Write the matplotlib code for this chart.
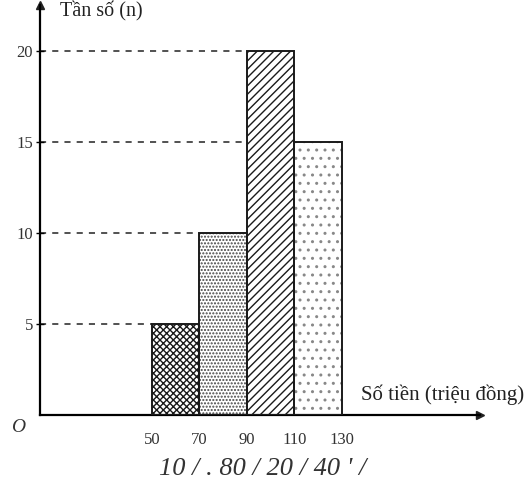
import matplotlib.pyplot as plt

# class edges (trieu dong) and frequencies
edges = [50, 70, 90, 110, 130]
freq = [5, 10, 20, 15]
hatches = ['xxxxx', '.....', '////', '..']
hatch_colors = ['#1a1a1a', '#444444', '#1a1a1a', '#888888']
yticks = [5, 10, 15, 20]

plt.rcParams['font.family'] = ['Liberation Serif', 'DejaVu Serif']
plt.rcParams['hatch.linewidth'] = 1.0

fig = plt.figure(figsize=(5.26, 4.87), dpi=100)
ax = fig.add_axes([40 / 526, 72 / 487, 440 / 526, 410 / 487])

lefts = edges[:-1]
widths = [edges[i + 1] - edges[i] for i in range(len(lefts))]

# dashed guide lines from the axis to each bar
for l, f in zip(lefts, freq):
    ax.plot([3, l], [f, f], ls=(0, (4, 4)), color='#222222', lw=1.1, zorder=1)

for l, w, f, h, hc in zip(lefts, widths, freq, hatches, hatch_colors):
    # fill + hatch first, then the outline on top
    ax.bar(l, f, width=w, align='edge', facecolor='white',
           edgecolor=hc, lw=0, hatch=h, zorder=2)
    ax.bar(l, f, width=w, align='edge', fill=False,
           edgecolor='#1a1a1a', lw=1.4, zorder=3)

ax.set_xlim(3, 188)
ax.set_ylim(0, 22.5)

for s in ['top', 'right']:
    ax.spines[s].set_visible(False)
ax.spines['left'].set_linewidth(1.6)
ax.spines['bottom'].set_linewidth(1.6)

# axis arrows
ax.plot(1, 0, '>', color='#222222', ms=6, transform=ax.get_yaxis_transform(), clip_on=False)
ax.plot(3, 1, '^', color='#222222', ms=6, transform=ax.get_xaxis_transform(), clip_on=False)

ax.set_yticks(yticks)
ax.set_yticklabels([str(v) for v in yticks], fontsize=12, color='#333333')
ax.tick_params(axis='y', direction='inout', length=6, width=1.0, pad=2)
ax.set_xticks(edges)
ax.set_xticklabels([str(v) for v in edges], fontsize=12, color='#333333')
ax.tick_params(axis='x', length=0, pad=12)

ax.text(-0.05, -0.03, 'O', transform=ax.transAxes, fontsize=14, style='italic',
        ha='center', va='center', color='#333333')
ax.text(0.045, 0.985, 'Tần số (n)', transform=ax.transAxes, fontsize=14.5,
        ha='left', va='center', color='#222222')
ax.text(1.1, 0.05, 'Số tiền (triệu đồng)', transform=ax.transAxes, fontsize=15,
        ha='right', va='center', color='#222222', clip_on=False)

# handwritten note under the axis
fig.text(0.5, 0.036, "10 / . 80 / 20 / 40 ' /", fontsize=19, style='italic',
         ha='center', va='center', color='#333333')

fig.savefig('out.png', dpi=100)
